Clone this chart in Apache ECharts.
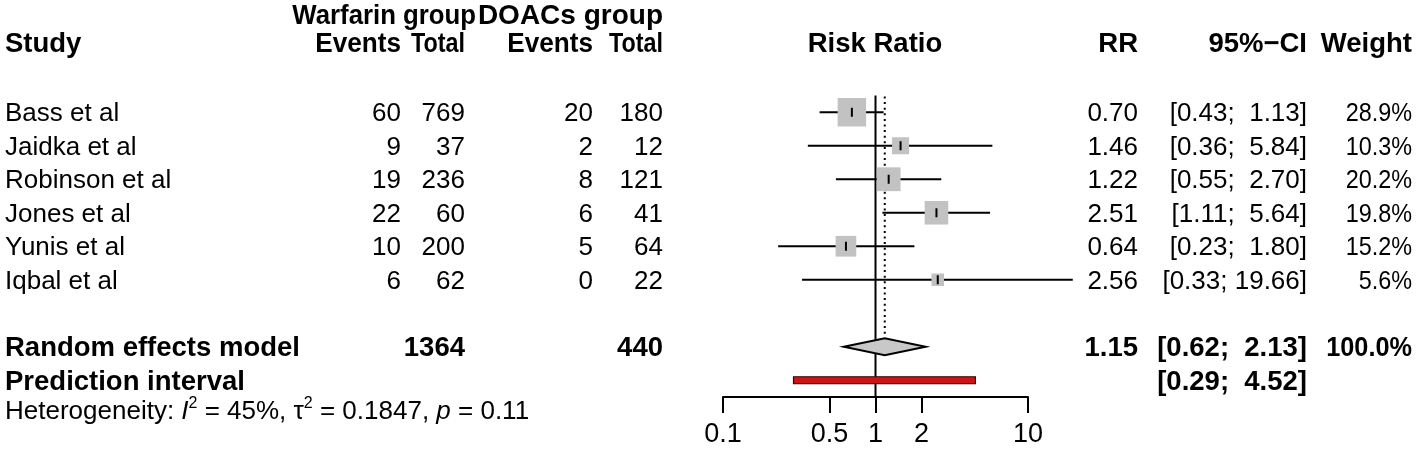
<!DOCTYPE html>
<html><head><meta charset="utf-8">
<script src="https://cdn.jsdelivr.net/npm/echarts@6/dist/echarts.min.js"></script>
<style>html,body{margin:0;padding:0;background:#fff}#c{width:1418px;height:461px}</style>
</head><body><div id="c"></div>
<script>
// ---------- data ----------
const studies     = ['Bass et al', 'Jaidka et al', 'Robinson et al', 'Jones et al', 'Yunis et al', 'Iqbal et al'];
const warfEvents  = [60, 9, 19, 22, 10, 6];
const warfTotal   = [769, 37, 236, 60, 200, 62];
const doacEvents  = [20, 2, 8, 6, 5, 0];
const doacTotal   = [180, 12, 121, 41, 64, 22];
const rr          = [0.70, 1.46, 1.22, 2.51, 0.64, 2.56];
const ciLow       = [0.43, 0.36, 0.55, 1.11, 0.23, 0.33];
const ciHigh      = [1.13, 5.84, 2.70, 5.64, 1.80, 19.66];
const weights     = [28.9, 10.3, 20.2, 19.8, 15.2, 5.6];
const pooledLabel = 'Random effects model';
const pooled      = [1.15, 0.62, 2.13];      // RR, lower, upper
const pooledWeight = 100.0;
const totalWarf   = 1364;
const totalDoac   = 440;
const predLabel   = 'Prediction interval';
const predInt     = [0.29, 4.52];
const xTicks      = [0.1, 0.5, 1, 2, 10];
const hetI2 = '45%', hetTau2 = '0.1847', hetP = '0.11';

// ---------- layout ----------
const FONT = '"Liberation Sans", Arial, Helvetica, sans-serif';
const FS = 26, FSB = 27.5;
const COL = {study: 5, wEv: 401, wTot: 465, dEv: 593, dTot: 663, plot: 875, rr: 1138, ci: 1307, wt: 1412, grp1: 476};
const ROW_POOLED = 7, ROW_PRED = 8;
const TEXT_DY = 2;
const lg = Math.log10;
const fmtCI = (lo, hi) => '[' + lo.toFixed(2) + '; ' + hi.toFixed(2).padStart(5, ' ') + ']';

const texts = [];
function T(row, x, text, align, bold, extra) { texts.push(Object.assign({row, x, text, align, bold}, extra || {})); }

// headers
const H1 = -2.93, H2 = -2.07;
T(H1, COL.grp1, 'Warfarin group', 'right', true, {sx: 0.92, fs: 28});
T(H1, COL.dTot, 'DOACs group', 'right', true, {fs: 28});
T(H2, COL.study, 'Study', 'left', true);
T(H2, COL.wEv, 'Events', 'right', true, {sx: 0.95});
T(H2, COL.wTot, 'Total', 'right', true, {sx: 0.85});
T(H2, COL.dEv, 'Events', 'right', true, {sx: 0.95});
T(H2, COL.dTot, 'Total', 'right', true, {sx: 0.85});
T(H2, COL.plot, 'Risk Ratio', 'center', true);
T(H2, COL.rr, 'RR', 'right', true);
T(H2, COL.ci, '95%\u2212CI', 'right', true);
T(H2, COL.wt, 'Weight', 'right', true);
// study rows
studies.forEach((s, i) => {
  T(i, COL.study, s, 'left', false);
  T(i, COL.wEv, String(warfEvents[i]), 'right', false);
  T(i, COL.wTot, String(warfTotal[i]), 'right', false);
  T(i, COL.dEv, String(doacEvents[i]), 'right', false);
  T(i, COL.dTot, String(doacTotal[i]), 'right', false);
  T(i, COL.rr, rr[i].toFixed(2), 'right', false);
  T(i, COL.ci, fmtCI(ciLow[i], ciHigh[i]), 'right', false);
  T(i, COL.wt, weights[i].toFixed(1) + '%', 'right', false, {sx: 0.9});
});
// pooled
T(ROW_POOLED, COL.study, pooledLabel, 'left', true);
T(ROW_POOLED, COL.wTot, String(totalWarf), 'right', true);
T(ROW_POOLED, COL.dTot, String(totalDoac), 'right', true);
T(ROW_POOLED, COL.rr, pooled[0].toFixed(2), 'right', true);
T(ROW_POOLED, COL.ci, fmtCI(pooled[1], pooled[2]), 'right', true);
T(ROW_POOLED, COL.wt, pooledWeight.toFixed(1) + '%', 'right', true, {sx: 0.92});
T(ROW_PRED, COL.study, predLabel, 'left', true);
T(ROW_PRED, COL.ci, fmtCI(predInt[0], predInt[1]), 'right', true);
// heterogeneity
T(8.88, COL.study,
  '{n|Heterogeneity: }{i|I}{s|2}{n| = ' + hetI2 + ', \u03c4}{s|2}{n| = ' + hetTau2 + ', }{i|p}{n| = ' + hetP + '}',
  'left', false, {rich: true});

const chart = echarts.init(document.getElementById('c'), null, {renderer: 'canvas'});

const richStyles = {
  n: {fontSize: 26, fontFamily: FONT, color: '#000', lineHeight: 32},
  i: {fontSize: 26, fontFamily: FONT, color: '#000', fontStyle: 'italic', lineHeight: 32},
  s: {fontSize: 16, fontFamily: FONT, color: '#000', lineHeight: 16, verticalAlign: 'top'}
};

const SQ_K = 5.3;

chart.setOption({
  animation: false,
  backgroundColor: '#fff',
  grid: {left: 723, right: 1418 - 1028, top: 95.5, bottom: 461 - 397, containLabel: false},
  xAxis: {
    type: 'value', min: -1, max: 1, position: 'bottom',
    axisLine: {show: true, onZero: false, lineStyle: {color: '#000', width: 2}},
    axisTick: {show: true, customValues: xTicks.map(lg), length: 16, lineStyle: {color: '#000', width: 2}},
    axisLabel: {
      customValues: xTicks.map(lg), margin: 24, color: '#000', fontSize: 27, fontFamily: FONT,
      showMinLabel: true, showMaxLabel: true,
      formatter: v => { const t = xTicks.find(t => Math.abs(lg(t) - v) < 1e-6); return t === undefined ? '' : String(t); }
    },
    splitLine: {show: false}
  },
  yAxis: {type: 'value', min: -0.5, max: 8.5, inverse: true, show: false, splitLine: {show: false}},
  series: [
    // reference lines
    {
      type: 'custom', clip: false, silent: true, z: 1,
      data: [[0, 0]],
      renderItem: (params, api) => {
        const top = api.coord([0, -0.5]), bot = api.coord([0, 8.5]);
        const px = api.coord([lg(pooled[0]), 0])[0];
        const dTop = api.coord([lg(pooled[0]), ROW_POOLED])[1] - 12;
        return {type: 'group', children: [
          {type: 'line', shape: {x1: top[0], y1: top[1], x2: bot[0], y2: bot[1]}, style: {stroke: '#000', lineWidth: 2}},
          {type: 'line', shape: {x1: px, y1: top[1] + 1, x2: px, y2: dTop}, style: {stroke: '#000', lineWidth: 2, lineDash: [2, 3.6]}}
        ]};
      }
    },
    // studies
    {
      type: 'custom', clip: false, silent: true, z: 2,
      data: studies.map((s, i) => [lg(rr[i]), i, lg(ciLow[i]), lg(ciHigh[i]), weights[i]]),
      renderItem: (params, api) => {
        const row = api.value(1);
        const c = api.coord([api.value(0), row]);
        const lo = api.coord([api.value(2), row]);
        const hi = api.coord([api.value(3), row]);
        const side = SQ_K * Math.sqrt(api.value(4));
        return {type: 'group', children: [
          {type: 'line', shape: {x1: lo[0], y1: lo[1], x2: hi[0], y2: hi[1]}, style: {stroke: '#000', lineWidth: 2}},
          {type: 'rect', shape: {x: c[0] - side / 2, y: c[1] - side / 2, width: side, height: side}, style: {fill: '#c2c2c2'}},
          {type: 'line', shape: {x1: c[0], y1: c[1] - 4.5, x2: c[0], y2: c[1] + 4.5}, style: {stroke: '#000', lineWidth: 2}}
        ]};
      }
    },
    // pooled diamond + prediction interval
    {
      type: 'custom', clip: false, silent: true, z: 3,
      data: [[lg(pooled[0]), ROW_POOLED, lg(pooled[1]), lg(pooled[2]), lg(predInt[0]), lg(predInt[1])]],
      renderItem: (params, api) => {
        const c = api.coord([api.value(0), ROW_POOLED]);
        const lo = api.coord([api.value(2), ROW_POOLED]);
        const hi = api.coord([api.value(3), ROW_POOLED]);
        const plo = api.coord([api.value(4), ROW_PRED]);
        const phi = api.coord([api.value(5), ROW_PRED]);
        const h = 8.5;
        return {type: 'group', children: [
          {type: 'polygon', shape: {points: [[lo[0], c[1]], [c[0], c[1] - h], [hi[0], c[1]], [c[0], c[1] + h]]},
           style: {fill: '#c8c8c8', stroke: '#000', lineWidth: 2}},
          {type: 'rect', shape: {x: plo[0], y: plo[1] - 3.5, width: phi[0] - plo[0], height: 7},
           style: {fill: '#cc1417', stroke: '#3a0000', lineWidth: 1.2}}
        ]};
      }
    },
    // text table
    {
      type: 'custom', clip: false, silent: true, z: 5,
      data: texts.map((t, i) => [0, t.row, i]),
      renderItem: (params, api) => {
        const t = texts[params.dataIndex];
        const y = api.coord([0, t.row])[1] + TEXT_DY;
        const style = {
          x: 0, y: 0, text: t.text, align: t.align, verticalAlign: 'middle',
          fill: '#000', fontSize: t.fs || (t.bold ? FSB : FS), fontFamily: FONT, fontWeight: t.bold ? 'bold' : 'normal'
        };
        if (t.rich) style.rich = richStyles;
        return {type: 'text', x: t.x, y: y, scaleX: t.sx || 1, style: style};
      }
    }
  ]
});
</script></body></html>
